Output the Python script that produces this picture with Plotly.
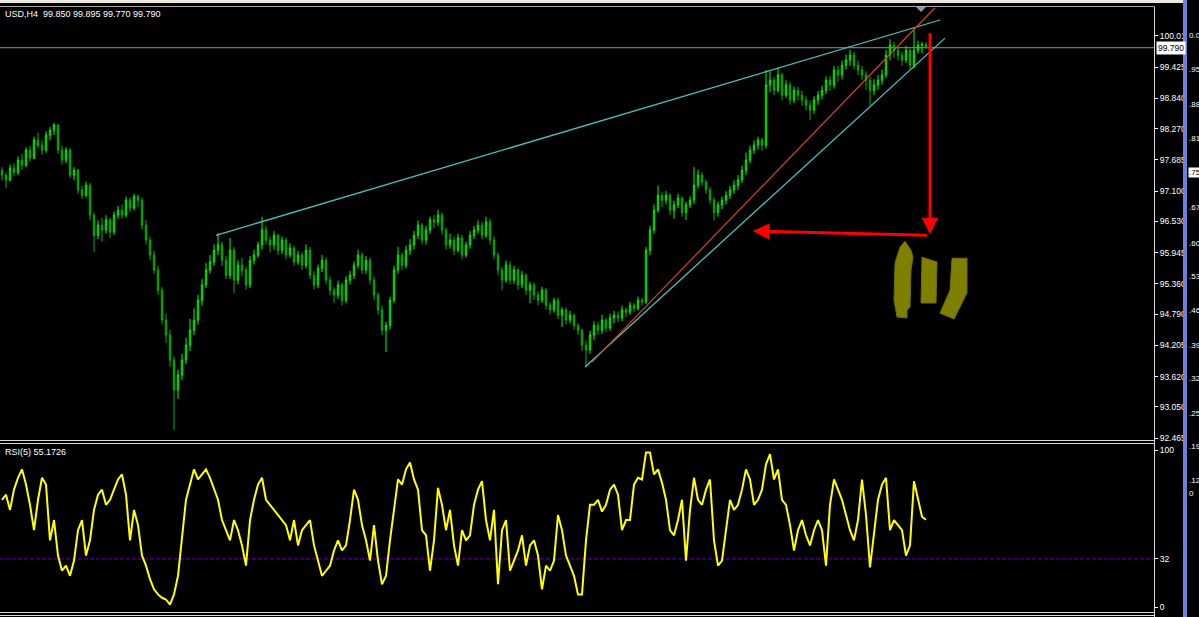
import plotly.graph_objects as go

# ---------------- data ----------------
symbol = "USD,H4"
FIRST_OPEN = 97.49

closes = [
    97.40, 97.31, 97.53, 97.45, 97.68, 97.59, 97.87, 97.72, 98.06, 97.96,
    97.87, 98.15, 98.24, 98.34, 97.87, 97.68, 97.87, 97.40, 97.49, 97.12,
    97.02, 97.21, 96.65, 96.27, 96.46, 96.37, 96.56, 96.33, 96.65, 96.74,
    96.65, 96.93, 96.78, 97.00, 96.93, 96.46, 96.18, 95.90, 95.62, 95.24,
    94.68, 94.40, 93.93, 93.37, 93.65, 93.93, 94.21, 94.49, 94.68, 95.05,
    95.34, 95.62, 95.77, 95.99, 96.09, 95.80, 95.52, 95.99, 95.43, 95.71,
    95.62, 95.34, 95.80, 95.90, 96.09, 96.37, 96.18, 96.09, 96.27, 95.99,
    96.18, 95.90, 96.03, 95.77, 95.90, 95.71, 95.99, 95.52, 95.34, 95.65,
    95.80, 95.43, 95.24, 95.15, 95.34, 95.05, 95.43, 95.52, 95.71, 95.90,
    95.62, 95.80, 95.43, 95.15, 94.87, 94.49, 94.58, 95.05, 95.62, 95.90,
    95.71, 95.99, 96.09, 96.27, 96.46, 96.18, 96.37, 96.56, 96.52, 96.65,
    96.37, 96.09, 96.18, 95.99, 96.22, 95.90, 96.09, 96.27, 96.37, 96.46,
    96.27, 96.52, 96.18, 95.90, 95.62, 95.43, 95.71, 95.43, 95.62, 95.34,
    95.52, 95.24, 95.34, 95.15, 95.05, 95.24, 94.96, 94.87, 95.05, 94.77,
    94.87, 94.68, 94.77, 94.58, 94.49, 94.21, 94.12, 94.40, 94.58, 94.49,
    94.68, 94.53, 94.72, 94.77, 94.72, 94.87, 94.83, 94.96, 94.90, 95.05,
    95.02, 95.99, 96.37, 96.74, 97.02, 96.93, 97.02, 96.74, 96.84, 96.97,
    96.70, 96.84, 96.93, 97.21, 97.40, 97.27, 97.12, 96.93, 96.70, 96.84,
    96.93, 97.02, 97.12, 97.21, 97.31, 97.49, 97.68, 97.87, 97.96, 98.06,
    97.96, 99.09, 99.18, 98.99, 99.28, 98.90, 99.09, 98.81, 98.99, 98.90,
    98.81, 98.71, 98.62, 98.81, 98.90, 98.99, 99.18, 99.09, 99.37, 99.28,
    99.46, 99.56, 99.65, 99.46, 99.37, 99.28, 99.18, 98.99, 99.09, 99.18,
    99.28, 99.65, 99.84, 99.74, 99.65, 99.56, 99.74, 99.46, 99.74, 99.84,
    99.85, 99.79,
]

highs = [
    97.55, 97.45, 97.60, 97.62, 97.75, 97.80, 97.92, 97.95, 98.12, 98.20,
    98.05, 98.22, 98.30, 98.38, 98.36, 97.95, 97.92, 97.90, 97.55, 97.52,
    97.20, 97.28, 97.25, 96.70, 96.55, 96.60, 96.65, 96.60, 96.72, 96.82,
    96.85, 97.00, 96.98, 97.05, 97.03, 96.98, 96.55, 96.25, 95.98, 95.70,
    95.30, 94.80, 94.50, 94.00, 93.75, 94.05, 94.35, 94.70, 94.90, 95.15,
    95.45, 95.75, 95.90, 96.10, 96.31, 96.15, 95.88, 96.22, 96.05, 95.80,
    95.85, 95.68, 95.88, 96.00, 96.15, 96.62, 96.45, 96.25, 96.35, 96.30,
    96.25, 96.22, 96.12, 96.08, 95.98, 95.95, 96.10, 96.05, 95.60, 95.72,
    95.90, 95.85, 95.50, 95.30, 95.42, 95.38, 95.50, 95.60, 95.78, 96.00,
    95.95, 95.88, 95.85, 95.50, 95.20, 94.95, 94.65, 95.12, 95.70, 96.05,
    95.95, 96.08, 96.20, 96.35, 96.55, 96.50, 96.45, 96.62, 96.65, 96.75,
    96.70, 96.42, 96.30, 96.25, 96.30, 96.28, 96.15, 96.35, 96.45, 96.55,
    96.52, 96.62, 96.58, 96.25, 95.95, 95.68, 95.80, 95.78, 95.70, 95.66,
    95.60, 95.56, 95.40, 95.38, 95.22, 95.30, 95.28, 95.02, 95.10, 95.10,
    94.92, 94.92, 94.85, 94.80, 94.62, 94.52, 94.30, 94.48, 94.66, 94.65,
    94.78, 94.72, 94.80, 94.85, 94.84, 94.95, 94.92, 95.02, 95.00, 95.12,
    95.10, 96.05, 96.45, 96.85, 97.20, 97.08, 97.10, 97.06, 96.92, 97.05,
    97.00, 96.90, 97.00, 97.55, 97.50, 97.45, 97.32, 97.18, 96.98, 96.90,
    97.00, 97.10, 97.20, 97.30, 97.40, 97.58, 97.82, 97.95, 98.05, 98.12,
    98.10, 99.37, 99.35, 99.25, 99.42, 99.32, 99.18, 99.15, 99.06, 99.05,
    98.98, 98.88, 98.80, 98.88, 98.98, 99.08, 99.25, 99.26, 99.45, 99.45,
    99.55, 99.66, 99.75, 99.72, 99.55, 99.45, 99.35, 99.25, 99.20, 99.28,
    99.38, 99.75, 99.95, 99.90, 99.80, 99.72, 99.82, 99.78, 100.16, 99.92,
    99.90, 99.895,
]

lows = [
    97.30, 97.15, 97.28, 97.38, 97.40, 97.50, 97.55, 97.65, 97.70, 97.90,
    97.78, 97.82, 98.05, 98.15, 97.80, 97.60, 97.62, 97.35, 97.30, 97.05,
    96.95, 96.98, 96.55, 95.95, 96.20, 96.15, 96.30, 96.22, 96.28, 96.58,
    96.58, 96.60, 96.70, 96.74, 96.80, 96.38, 96.10, 95.80, 95.55, 95.15,
    94.60, 94.25, 93.80, 92.62, 93.20, 93.55, 93.85, 94.10, 94.40, 94.60,
    94.95, 95.28, 95.55, 95.70, 95.90, 95.70, 95.45, 95.45, 95.18, 95.35,
    95.50, 95.25, 95.28, 95.72, 95.85, 96.00, 96.10, 95.95, 96.00, 95.90,
    95.92, 95.82, 95.85, 95.70, 95.72, 95.62, 95.65, 95.45, 95.25, 95.28,
    95.58, 95.35, 95.15, 95.00, 95.08, 94.96, 95.00, 95.35, 95.45, 95.65,
    95.55, 95.55, 95.35, 95.05, 94.78, 94.40, 94.08, 94.50, 95.00, 95.55,
    95.62, 95.65, 95.90, 96.00, 96.20, 96.10, 96.10, 96.30, 96.40, 96.45,
    96.28, 96.00, 96.02, 95.90, 95.95, 95.82, 95.85, 96.02, 96.20, 96.30,
    96.20, 96.22, 96.10, 95.82, 95.52, 95.24, 95.38, 95.35, 95.36, 95.25,
    95.28, 95.15, 95.00, 95.06, 94.96, 95.00, 94.88, 94.78, 94.82, 94.70,
    94.55, 94.60, 94.62, 94.50, 94.40, 94.10, 93.80, 94.05, 94.30, 94.40,
    94.42, 94.45, 94.48, 94.62, 94.64, 94.66, 94.74, 94.78, 94.83, 94.86,
    94.95, 94.98, 95.90, 96.30, 96.70, 96.80, 96.85, 96.65, 96.58, 96.78,
    96.62, 96.56, 96.78, 96.86, 97.15, 97.20, 97.05, 96.85, 96.55, 96.62,
    96.76, 96.85, 96.95, 97.05, 97.12, 97.25, 97.40, 97.62, 97.80, 97.88,
    97.85, 97.90, 98.95, 98.90, 98.95, 98.80, 98.85, 98.72, 98.75, 98.80,
    98.70, 98.62, 98.43, 98.55, 98.72, 98.82, 98.92, 98.98, 99.02, 99.15,
    99.20, 99.38, 99.45, 99.38, 99.28, 99.18, 99.00, 98.71, 98.90, 99.00,
    99.10, 99.22, 99.55, 99.60, 99.55, 99.45, 99.50, 99.38, 99.40, 99.68,
    99.68, 99.77,
]

rsi = [
    67, 70, 61, 73, 80, 85, 76, 64, 49, 67,
    80, 76, 43, 55, 34, 25, 28, 22, 31, 49,
    55, 34, 43, 61, 70, 73, 64, 67, 73, 79,
    82, 70, 43, 61, 52, 34, 28, 20, 14, 11,
    9, 8, 5, 11, 22, 43, 67, 76, 85, 79,
    82, 85, 80, 73, 67, 55, 49, 43, 55, 49,
    40, 28, 55, 67, 76, 80, 67, 64, 61, 58,
    55, 52, 43, 55, 40, 49, 52, 55, 40, 31,
    22, 25, 28, 37, 43, 37, 40, 55, 73, 67,
    52, 43, 31, 52, 31, 17, 22, 43, 61, 79,
    76, 85, 89, 79, 73, 49, 46, 25, 43, 74,
    64, 49, 61, 40, 28, 49, 43, 46, 64, 73,
    78, 55, 43, 61, 17, 49, 55, 25, 31, 37,
    46, 28, 40, 43, 34, 14, 28, 25, 31, 58,
    49, 34, 28, 22, 11, 11, 43, 64, 64, 67,
    60, 64, 73, 76, 70, 49, 55, 55, 76, 80,
    79, 95, 95, 82, 85, 77, 67, 49, 46, 55,
    67, 31, 61, 80, 67, 64, 73, 79, 43, 28,
    31, 49, 67, 61, 64, 73, 85, 79, 64, 67,
    73, 88, 94, 79, 85, 67, 64, 52, 37, 49,
    55, 46, 40, 49, 55, 49, 28, 64, 79, 73,
    67, 58, 49, 43, 55, 79, 58, 27, 49, 67,
    76, 80, 49, 55, 52, 49, 34, 40, 78, 67,
    57, 55.1726,
]

price_ticks = [100.010, 99.425, 98.840, 98.270, 97.685, 97.100, 96.530,
               95.945, 95.360, 94.790, 94.205, 93.620, 93.050, 92.465]
price_tick_text = ["100.01", "99.425", "98.840", "98.270", "97.685", "97.100", "96.530",
                   "95.945", "95.360", "94.790", "94.205", "93.620", "93.050", "92.465"]
rsi_level = 32
rsi_tick_text = ["100", "32", "0"]

# drawn objects (bar index, price)
upper_channel_x = [53.5, 234.5]
upper_channel_y = [96.27, 100.31]
lower_channel_x = [145.75, 235.75]
lower_channel_y = [93.80, 99.97]
red_trend_x = [147.5, 233.25]
red_trend_y = [93.89, 100.54]
arrow_down_x = [232, 232]
arrow_down_y = [100.09, 96.29]
arrow_left_x = [231.6, 187.75]
arrow_left_y = [96.27, 96.35]

olive_a_x = [225.75, 227.25, 227.75, 227.25, 227.0, 226.25, 226.25, 223.75, 223.0, 223.25, 224.5]
olive_a_y = [96.16, 95.99, 95.86, 95.62, 94.92, 94.87, 94.72, 94.74, 95.05, 95.75, 96.05]
olive_b_x = [230.0, 233.75, 233.5, 229.75]
olive_b_y = [95.86, 95.77, 95.00, 95.00]
olive_c_x = [237.5, 241.25, 241.25, 238.0, 234.5, 237.0]
olive_c_y = [95.84, 95.84, 95.19, 94.70, 94.81, 95.24]

right_labels = ["0.0", ".95", ".88", ".81", ".75", ".67", ".60", ".53",
                ".46", ".39", ".32", ".25", ".19", ".12", "0"]

# ---------------- derived ----------------
opens = [FIRST_OPEN] + closes[:-1]
bars = list(range(len(closes)))

# ---------------- geometry helpers ----------------
PLOT_W = 1154.0
TOP = 7.0
BOTTOM = 613.0
PLOT_H = BOTTOM - TOP


def px(x):
    return x / PLOT_W


def py(y):
    return (BOTTOM - y) / PLOT_H


FONT = "Liberation Sans, Arial, sans-serif"

fig = go.Figure()

fig.add_trace(go.Candlestick(
    x=bars, open=opens, high=highs, low=lows, close=closes,
    increasing=dict(line=dict(color="#00ff00", width=1), fillcolor="#000000"),
    decreasing=dict(line=dict(color="#00b400", width=1), fillcolor="#007a00"),
    whiskerwidth=0, hoverinfo="skip", xaxis="x", yaxis="y",
))

fig.add_trace(go.Scatter(
    x=bars, y=rsi, mode="lines", line=dict(color="#ffff00", width=2),
    hoverinfo="skip", xaxis="x", yaxis="y2",
))

shapes = []
# current price line
shapes.append(dict(type="line", xref="paper", yref="y", x0=0, x1=1,
                   y0=closes[-1], y1=closes[-1],
                   line=dict(color="#7f98a8", width=1), layer="below"))
# RSI level
shapes.append(dict(type="line", xref="paper", yref="y2", x0=0, x1=1,
                   y0=rsi_level, y1=rsi_level,
                   line=dict(color="#6a00cc", width=1, dash="4px,2px"), layer="below"))
# channel / trend lines
shapes.append(dict(type="line", xref="x", yref="y",
                   x0=upper_channel_x[0], x1=upper_channel_x[1],
                   y0=upper_channel_y[0], y1=upper_channel_y[1],
                   line=dict(color="#48c4c4", width=1.3)))
shapes.append(dict(type="line", xref="x", yref="y",
                   x0=lower_channel_x[0], x1=lower_channel_x[1],
                   y0=lower_channel_y[0], y1=lower_channel_y[1],
                   line=dict(color="#48c4c4", width=1.3)))
shapes.append(dict(type="line", xref="x", yref="y",
                   x0=red_trend_x[0], x1=red_trend_x[1],
                   y0=red_trend_y[0], y1=red_trend_y[1],
                   line=dict(color="#d2451e", width=1.2)))


def poly(xs, ys):
    pts = " L".join(f"{x},{y}" for x, y in zip(xs, ys))
    return "M" + pts + " Z"


for xs, ys in [(olive_a_x, olive_a_y), (olive_b_x, olive_b_y), (olive_c_x, olive_c_y)]:
    shapes.append(dict(type="path", xref="x", yref="y", path=poly(xs, ys),
                       fillcolor="#808000", line=dict(color="#6e6e00", width=1)))

# frame
frame = dict(color="#d8d8d8", width=1)
shapes.append(dict(type="rect", xref="paper", yref="paper", x0=0, x1=px(1183),
                   y0=py(3), y1=py(-2), fillcolor="#ece8dc", line=dict(width=0), layer="above"))
shapes.append(dict(type="line", xref="paper", yref="paper", x0=0, x1=1,
                   y0=py(6.5), y1=py(6.5), line=dict(color="#a8a8a8", width=1), layer="above"))
for yy in (440.5, 443.5, 612.5, 615.5):
    shapes.append(dict(type="line", xref="paper", yref="paper", x0=0, x1=1,
                       y0=py(yy), y1=py(yy), line=frame, layer="above"))
shapes.append(dict(type="line", xref="paper", yref="paper", x0=px(1154.5), x1=px(1154.5),
                   y0=py(6.5), y1=py(618), line=frame, layer="above"))
# chart shift marker
shapes.append(dict(type="path", xref="paper", yref="paper",
                   path=f"M{px(916)},{py(7)} L{px(926)},{py(7)} L{px(921)},{py(12)} Z",
                   fillcolor="#8a9aaa", line=dict(width=0), layer="above"))
# right edge: neighbouring window
shapes.append(dict(type="rect", xref="paper", yref="paper", x0=px(1187), x1=px(1205),
                   y0=py(620), y1=py(-3), fillcolor="#000000", line=dict(width=0), layer="above"))
shapes.append(dict(type="rect", xref="paper", yref="paper", x0=px(1183), x1=px(1187),
                   y0=py(620), y1=py(-3), fillcolor="#6f7fdc", line=dict(width=0), layer="above"))

annotations = []
annotations.append(dict(
    xref="paper", yref="paper", x=px(3), y=py(14), xanchor="left", yanchor="middle",
    text=f"{symbol}\u00a0\u00a0{opens[-1]:.3f} {highs[-1]:.3f} {lows[-1]:.3f} {closes[-1]:.3f}",
    showarrow=False, font=dict(family=FONT, size=9, color="#ffffff")))
annotations.append(dict(
    xref="paper", yref="paper", x=px(3), y=py(452), xanchor="left", yanchor="middle",
    text=f"RSI(5) {rsi[-1]:.4f}",
    showarrow=False, font=dict(family=FONT, size=9, color="#ffffff")))
annotations.append(dict(
    xref="paper", yref="y", x=px(1156), y=closes[-1], xanchor="left", yanchor="middle",
    text=f"{closes[-1]:.3f}", showarrow=False, bgcolor="#ffffff", borderpad=1,
    font=dict(family=FONT, size=8.5, color="#000000")))
# red arrows
annotations.append(dict(
    xref="x", yref="y", axref="x", ayref="y",
    x=arrow_down_x[1], y=arrow_down_y[1], ax=arrow_down_x[0], ay=arrow_down_y[0],
    text="", showarrow=True, arrowhead=2, arrowsize=1.1, arrowwidth=3, arrowcolor="#ff0000"))
annotations.append(dict(
    xref="x", yref="y", axref="x", ayref="y",
    x=arrow_left_x[1], y=arrow_left_y[1], ax=arrow_left_x[0], ay=arrow_left_y[0],
    text="", showarrow=True, arrowhead=2, arrowsize=1.1, arrowwidth=3, arrowcolor="#ff0000"))

right_label_py = [35, 70, 104, 138, 172, 207, 243, 277, 310, 345, 378, 413, 446, 480, 493]
for lab, yy in zip(right_labels, right_label_py):
    hl = lab == ".75"
    annotations.append(dict(
        xref="paper", yref="paper", x=px(1187.5), y=py(yy), xanchor="left", yanchor="middle",
        text=lab, showarrow=False, borderpad=0,
        bgcolor="#ffffff" if hl else None,
        font=dict(family=FONT, size=8, color="#000000" if hl else "#ffffff")))

fig.update_layout(
    width=1199, height=617,
    paper_bgcolor="#000000", plot_bgcolor="#000000",
    margin=dict(l=0, r=45, t=7, b=4, pad=0),
    showlegend=False, hovermode=False, boxgap=0.5,
    xaxis=dict(range=[-0.5, 288], showgrid=False, zeroline=False, showticklabels=False,
               ticks="", showline=False, rangeslider=dict(visible=False), fixedrange=True),
    yaxis=dict(domain=[py(440), 1.0], range=[92.43, 100.554], side="right",
               tickvals=price_ticks, ticktext=price_tick_text,
               ticks="outside", ticklen=3, tickcolor="#ffffff", tickwidth=1,
               tickfont=dict(family=FONT, size=8.5, color="#ffffff"),
               showgrid=False, zeroline=False, showline=False, fixedrange=True),
    yaxis2=dict(domain=[0.0, py(444)], range=[0, 100], side="right", anchor="x",
                tickvals=[96.4, rsi_level, 3.5], ticktext=rsi_tick_text,
                ticks="outside", ticklen=3, tickcolor="#ffffff", tickwidth=1,
                tickfont=dict(family=FONT, size=8.5, color="#ffffff"),
                showgrid=False, zeroline=False, showline=False, fixedrange=True),
    shapes=shapes, annotations=annotations,
)

fig.write_html("out.html", config={"displayModeBar": False, "staticPlot": True},
               post_script="document.body.style.margin='0px';document.body.style.overflow='hidden';")
